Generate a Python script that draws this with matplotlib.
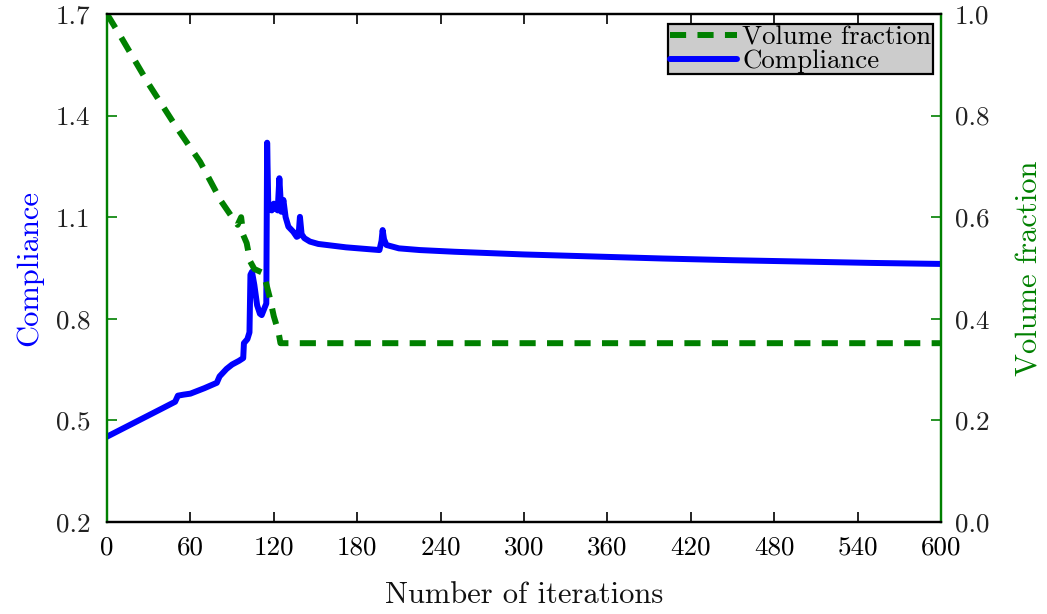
import matplotlib
matplotlib.use("Agg")
import matplotlib.pyplot as plt

plt.rcParams['font.family'] = ['cmr10', 'DejaVu Serif']
plt.rcParams['mathtext.fontset'] = 'cm'
plt.rcParams['axes.formatter.use_mathtext'] = True

# ---- data ----
comp_iter = [0, 10, 20, 30, 40, 49, 51, 55, 60, 70, 79, 81, 86, 90, 95, 98, 98.5,
             101, 102.5, 103.2, 104.3, 106, 108, 110, 111.3, 113.7, 114.6, 115.2,
             116.1, 117.5, 118.5, 120, 121.5, 122.8, 124, 125.4, 126.9, 128.5,
             130.5, 134, 136.5, 137.8, 138.8, 140, 142, 146, 152, 158, 172, 187,
             196, 197.5, 198.3, 199.3, 201, 210, 225, 250, 300, 350, 400, 450,
             500, 550, 600]
comp_val = [0.452, 0.473, 0.494, 0.515, 0.536, 0.555, 0.573, 0.576, 0.579, 0.595,
            0.611, 0.630, 0.652, 0.665, 0.676, 0.684, 0.728, 0.740, 0.760, 0.930,
            0.939, 0.900, 0.840, 0.815, 0.811, 0.836, 0.845, 1.320, 1.121, 1.126,
            1.120, 1.140, 1.125, 1.120, 1.215, 1.116, 1.151, 1.100, 1.072, 1.057,
            1.042, 1.045, 1.101, 1.050, 1.038, 1.028, 1.021, 1.018, 1.011, 1.006,
            1.003, 1.030, 1.062, 1.035, 1.018, 1.008, 1.003, 0.998, 0.990, 0.984,
            0.978, 0.973, 0.969, 0.965, 0.962]

vol_iter = [0, 10, 30, 49, 67, 82, 90, 94, 96.5, 98, 100.5, 103, 106, 110, 112.5,
            114, 117, 120, 123.3, 124.8, 170, 300, 450, 600]
vol_val = [1.0, 0.955, 0.862, 0.781, 0.709, 0.632, 0.600, 0.585, 0.600, 0.565,
           0.549, 0.513, 0.498, 0.493, 0.490, 0.475, 0.443, 0.405, 0.375, 0.352,
           0.352, 0.352, 0.352, 0.352]

x_ticks = [0, 60, 120, 180, 240, 300, 360, 420, 480, 540, 600]
left_ticks = [0.2, 0.5, 0.8, 1.1, 1.4, 1.7]
right_ticks = [0.0, 0.2, 0.4, 0.6, 0.8, 1.0]

GREEN = '#008000'
BLUE = '#0000ff'

fig = plt.figure(figsize=(10.47, 6.14), dpi=100)
ax = fig.add_axes([107/1047, 1 - 522/614, 834/1047, 508/614])
ax2 = ax.twinx()

l_comp, = ax.plot(comp_iter, comp_val, color=BLUE, lw=4.3, solid_joinstyle='round',
                  solid_capstyle='round', label='Compliance', zorder=3)
l_vol, = ax2.plot(vol_iter, vol_val, color=GREEN, lw=4.3, dashes=(2.7, 1.9),
                  label='Volume fraction', zorder=2)

ax.set_xlim(0, 600)
ax.set_ylim(0.2, 1.7)
ax2.set_ylim(0.0, 1.0)

ax.set_xticks(x_ticks)
ax.set_xticklabels([str(v) for v in x_ticks])
ax.set_yticks(left_ticks)
ax.set_yticklabels([f"{v:.1f}" for v in left_ticks])
ax2.set_yticks(right_ticks)
ax2.set_yticklabels([f"{v:.1f}" for v in right_ticks])

ax.tick_params(axis='x', direction='in', length=7, width=1.2, colors='black',
               labelsize=19.5, pad=10, top=True, labeltop=False)
ax.tick_params(axis='y', direction='in', length=7, width=1.2, color=GREEN,
               labelcolor='#222222', labelsize=19.5, pad=12, right=False)
ax2.tick_params(axis='y', direction='in', length=7, width=1.2, color=GREEN,
                labelcolor='#222222', labelsize=19.5, pad=10)

for a in (ax, ax2):
    a.spines['top'].set_color('black')
    a.spines['bottom'].set_color('black')
    a.spines['left'].set_color(GREEN)
    a.spines['right'].set_color(GREEN)
    for s in a.spines.values():
        s.set_linewidth(1.6)

ax.set_xlabel('Number of iterations', fontsize=22, labelpad=16, color='#111111')
ax.set_ylabel('Compliance', fontsize=22, color=BLUE, labelpad=9)
ax2.set_ylabel('Volume fraction', fontsize=22, color=GREEN, labelpad=19)

leg = ax2.legend([l_vol, l_comp], ['Volume fraction', 'Compliance'],
                 loc='upper right', bbox_to_anchor=(0.990, 0.980),
                 borderaxespad=0, fontsize=19.3, labelspacing=0.0,
                 handlelength=2.5, handletextpad=0.2, borderpad=0.05,
                 fancybox=False, framealpha=1, facecolor='#cccccc',
                 edgecolor='black')
leg.get_frame().set_linewidth(1.6)

fig.savefig('out.png', dpi=100)
